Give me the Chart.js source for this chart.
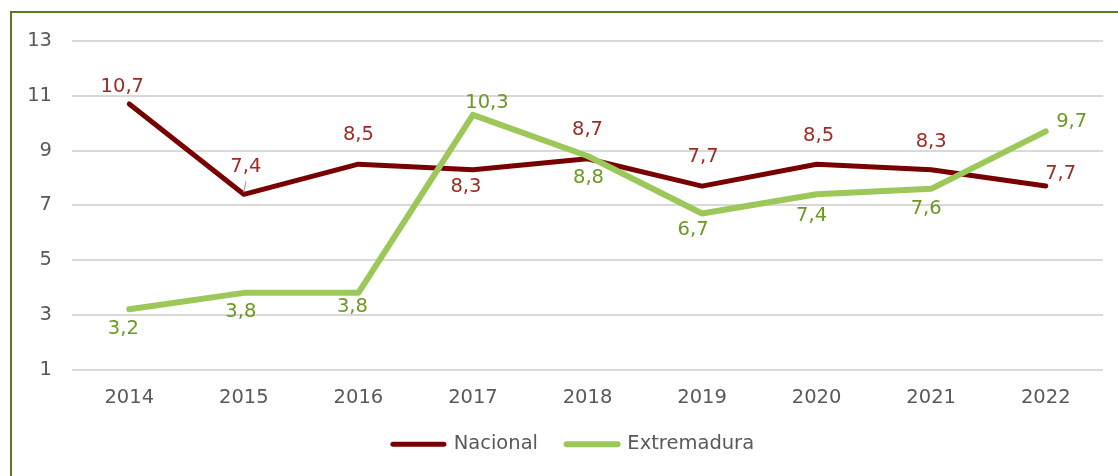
<!DOCTYPE html>
<html><head><meta charset="utf-8">
<script src="https://cdn.jsdelivr.net/npm/chart.js@4.4.0/dist/chart.umd.min.js"></script>
<style>
html,body{margin:0;padding:0;background:#fff;overflow:hidden}
#wrap{position:relative;width:1118px;height:476px;overflow:hidden}
#frame{position:absolute;left:10px;top:11px;width:2000px;height:2000px;border-top:2px solid #5B7B22;border-left:2px solid #5B7B22;box-sizing:border-box}
canvas{position:absolute;left:0;top:0}
</style></head><body>
<div id="wrap"><div id="frame"></div><canvas id="c" width="1118" height="476"></canvas></div>
<script>
const years = ['2014','2015','2016','2017','2018','2019','2020','2021','2022'];
const nacional = [10.7, 7.4, 8.5, 8.3, 8.7, 7.7, 8.5, 8.3, 7.7];
const extremadura = [3.2, 3.8, 3.8, 10.3, 8.8, 6.7, 7.4, 7.6, 9.7];
const yTicks = [1, 3, 5, 7, 9, 11, 13];
const seriesNames = ['Nacional', 'Extremadura'];

const FONT = '"DejaVu Sans", Verdana, sans-serif';
const FS = 19.5;
const TXT = '#595959';

// label placement (styling): [dx, dy] offsets from each point
const labelOffsets = [
  [[-7,-17],[2,-27],[0,-29],[-7,17],[0,-29],[1,-29],[2,-28],[0,-28],[15,-12]],
  [[-6,20],[-3,19],[-6,14],[14,-12],[1,22],[-9,16],[-5,22],[-5,20],[26,-9]]
];
const labelColors = ['#9E2B22', '#6B9A22'];

const labelPlugin = {
  id: 'pointLabels',
  afterDatasetsDraw(chart) {
    const ctx = chart.ctx;
    chart.data.datasets.forEach((ds, i) => {
      const meta = chart.getDatasetMeta(i);
      ctx.save();
      ctx.font = FS + 'px ' + FONT;
      ctx.fillStyle = labelColors[i];
      ctx.textAlign = 'center';
      ctx.textBaseline = 'middle';
      meta.data.forEach((pt, j) => {
        const v = ds.data[j];
        const txt = v.toFixed(1).replace('.', ',');
        const [dx, dy] = labelOffsets[i][j];
        ctx.fillText(txt, pt.x + dx, pt.y + dy);
        if (i === 0 && j === 1) {
          ctx.save();
          ctx.strokeStyle = '#A6A6A6';
          ctx.lineWidth = 1.2;
          ctx.beginPath();
          ctx.moveTo(pt.x + 2, pt.y - 13);
          ctx.lineTo(pt.x, pt.y - 2);
          ctx.stroke();
          ctx.restore();
        }
      });
      ctx.restore();
    });
  }
};

// shift the legend block slightly right to match the original centring
const legendShift = {
  id: 'legendShift',
  afterLayout(chart) {
    if (chart.legend) { chart.legend.left += 14.5; chart.legend.right += 14.5; }
  }
};

new Chart(document.getElementById('c'), {
  type: 'line',
  data: {
    labels: years,
    datasets: [
      { label: seriesNames[0], data: nacional, borderColor: '#780000', backgroundColor: '#780000',
        borderWidth: 5, pointRadius: 0, borderCapStyle: 'round', borderJoinStyle: 'round', tension: 0, order: 2 },
      { label: seriesNames[1], data: extremadura, borderColor: '#9CC85A', backgroundColor: '#9CC85A',
        borderWidth: 6, pointRadius: 0, borderCapStyle: 'round', borderJoinStyle: 'round', tension: 0, order: 1 }
    ]
  },
  options: {
    responsive: false,
    animation: false,
    devicePixelRatio: 1,
    layout: { padding: { left: 15, right: 15, top: 41, bottom: 12 } },
    plugins: {
      tooltip: { enabled: false },
      legend: {
        position: 'bottom',
        labels: {
          usePointStyle: true,
          pointStyle: 'line',
          pointStyleWidth: 51,
          boxHeight: 5,
          padding: 10,
          color: TXT,
          font: { family: FONT, size: FS },
          sort: (a, b) => a.datasetIndex - b.datasetIndex,
          generateLabels(chart) {
            const items = Chart.defaults.plugins.legend.labels.generateLabels(chart);
            items.forEach(it => {
              it.lineCap = 'round';
              it.pointStyle = 'line';
              it.fontColor = TXT;
              if (it.datasetIndex === 0) it.text = it.text + '   ';
            });
            return items;
          }
        }
      }
    },
    scales: {
      x: {
        offset: true,
        grid: { display: false, drawTicks: false },
        border: { display: false },
        ticks: { color: TXT, font: { family: FONT, size: FS }, padding: 17, maxRotation: 0 },
        afterFit: s => { s.height = 55; }
      },
      y: {
        min: 1, max: 13,
        afterBuildTicks: s => { s.ticks = yTicks.map(v => ({ value: v })); },
        grid: { color: '#D9D9D9', lineWidth: 2, drawTicks: false },
        border: { display: false },
        ticks: { color: TXT, font: { family: FONT, size: FS }, padding: 20 },
        afterFit: s => { s.width = 57; }
      }
    }
  },
  plugins: [labelPlugin, legendShift]
});
</script>
</body></html>
